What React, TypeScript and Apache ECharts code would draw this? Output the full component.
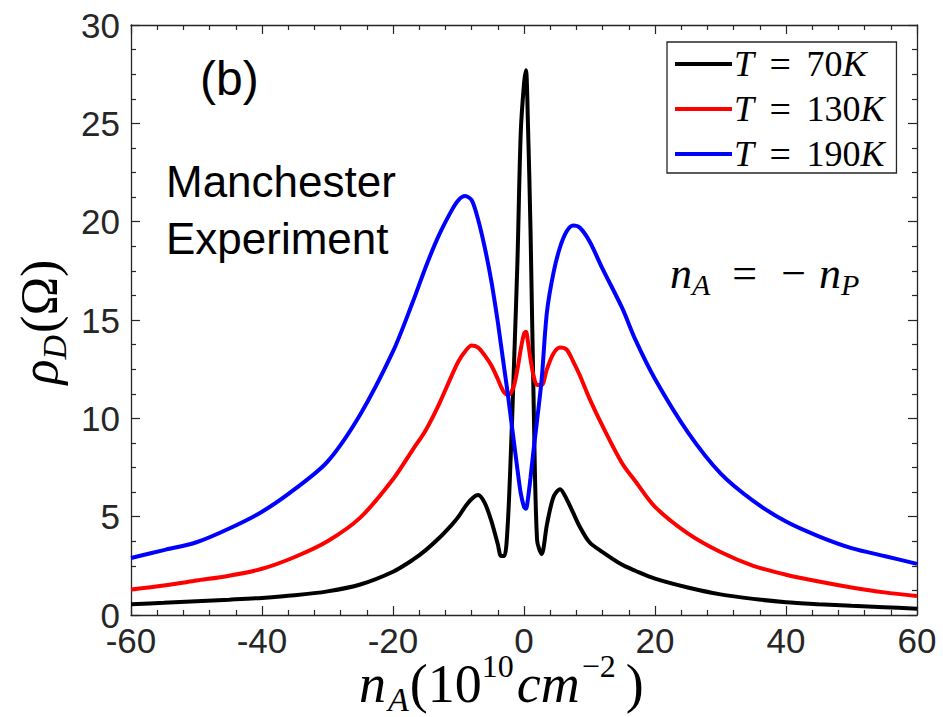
import React, { useEffect, useRef } from "react";
import * as echarts from "echarts";

const N_A = [-60, -55, -50, -45, -40, -35, -30, -25, -20, -17, -15, -13, -11, -10, -9, -8, -7, -6, -5, -4, -3.5, -3, -2.5, -2, -1.5, -1, -0.5, 0, 0.3, 0.6, 1, 1.5, 2, 2.7, 3.5, 4.5, 5.5, 6.5, 7.5, 8.5, 10, 12, 15, 17, 20, 25, 30, 35, 40, 45, 50, 55, 60];

const RHO_70K = [0.55, 0.62, 0.7, 0.78, 0.87, 1.0, 1.2, 1.55, 2.2, 2.8, 3.3, 3.9, 4.6, 5.0, 5.5, 5.9, 6.1, 5.7, 4.8, 3.6, 3.0, 3.0, 4.5, 8.3, 13, 18, 24.5, 27.0, 27.7, 25, 19.5, 10.3, 3.8, 3.1, 4.6, 6.0, 6.4, 5.9, 5.2, 4.5, 3.7, 3.2, 2.55, 2.25, 1.85, 1.4, 1.05, 0.82, 0.65, 0.55, 0.47, 0.4, 0.32];

const RHO_130K = [1.3, 1.5, 1.75, 2.0, 2.35, 2.95, 3.75, 4.95, 6.9, 8.4, 9.4, 10.7, 12.2, 12.9, 13.4, 13.7, 13.6, 13.2, 12.7, 12.0, 11.6, 11.3, 11.2, 11.3, 11.7, 12.5, 13.5, 14.3, 14.4, 13.9, 13.0, 12.1, 11.7, 11.7, 12.5, 13.3, 13.6, 13.5, 12.9, 12.2, 11.0, 9.6, 7.7, 6.8, 5.5, 4.15, 3.2, 2.5, 2.05, 1.7, 1.4, 1.15, 0.97];

const RHO_190K = [2.9, 3.3, 3.7, 4.4, 5.25, 6.4, 7.8, 10.2, 13.4, 15.9, 17.7, 19.3, 20.6, 21.1, 21.3, 21.1, 20.1, 18.7, 17.0, 14.9, 13.7, 12.5, 11.3, 10.0, 8.7, 7.4, 6.2, 5.5, 5.4, 5.9, 7.0, 8.5, 9.9, 12.0, 15.4, 17.4, 18.7, 19.5, 19.8, 19.7, 19.0, 17.6, 15.6, 14.0, 12.0, 9.3, 7.2, 5.8, 4.75, 4.0, 3.4, 3.0, 2.6];

const SERIES_NAMES = ["T = 70K", "T = 130K", "T = 190K"];
const SERIES_TEMPS = ["70", "130", "190"];
const SERIES_COLORS = ["#000000", "#ff0000", "#0000ff"];
const SERIES_VALUES = [RHO_70K, RHO_130K, RHO_190K];

const X_MIN = -60;
const X_MAX = 60;
const X_STEP = 20;
const Y_MIN = 0;
const Y_MAX = 30;
const Y_STEP = 5;

const AXIS_COLOR = "#262626";
const SANS = "'Liberation Sans', Arial, Helvetica, sans-serif";
const SERIF = "'Liberation Serif', 'Times New Roman', serif";

type Piece = { t: string; size: number; italic?: boolean; dy?: number; gap?: number };

let measureCtx: CanvasRenderingContext2D | null = null;
function measure(p: Piece): number {
  if (!measureCtx) measureCtx = document.createElement("canvas").getContext("2d");
  if (!measureCtx) return p.t.length * p.size * 0.5;
  measureCtx.font = `${p.italic ? "italic " : ""}${p.size}px 'Liberation Serif'`;
  return measureCtx.measureText(p.t).width;
}

// Builds a math-like label from pieces sharing one baseline (with sub/superscript offsets).
function mathLabel(pieces: Piece[], x: number, baseline: number, align: "left" | "center", rotation = 0) {
  const widths = pieces.map(measure);
  const total = pieces.reduce((acc, p, i) => acc + (p.gap || 0) + widths[i], 0);
  let cx = align === "center" ? -total / 2 : 0;
  const children: any[] = [];
  pieces.forEach((p, i) => {
    cx += p.gap || 0;
    children.push({
      type: "text",
      x: cx,
      y: (p.dy || 0) - 0.3375 * p.size,
      style: {
        text: p.t,
        fontFamily: SERIF,
        fontStyle: p.italic ? "italic" : "normal",
        fontSize: p.size,
        fill: "#000",
        align: "left",
        verticalAlign: "middle",
      },
    });
    cx += widths[i];
  });
  return { type: "group", x, y: baseline, rotation, children };
}

export default function App() {
  const ref = useRef<HTMLDivElement>(null);

  useEffect(() => {
    if (!ref.current) return;
    const chart = echarts.init(ref.current, undefined, { renderer: "svg" });

    const tickCommon = {
      axisLine: { show: true, onZero: false, lineStyle: { color: AXIS_COLOR, width: 1.3 } },
      axisTick: { show: true, inside: true, length: 9, lineStyle: { color: AXIS_COLOR, width: 1.2 } },
      splitLine: { show: false },
      minorSplitLine: { show: false },
    };
    const minorX = { show: true, splitNumber: 5, length: 5, lineStyle: { color: AXIS_COLOR, width: 1.2 } };
    const minorY = { show: true, splitNumber: 4, length: 5, lineStyle: { color: AXIS_COLOR, width: 1.2 } };
    const tickLabel = { fontSize: 35, lineHeight: 24, color: AXIS_COLOR, fontFamily: SANS };

    const xName = mathLabel(
      [
        { t: "n", size: 54, italic: true },
        { t: "A", size: 34, italic: true, dy: 9, gap: 2 },
        { t: "(", size: 54, gap: 1 },
        { t: "10", size: 54 },
        { t: "10", size: 32, dy: -25 },
        { t: "cm", size: 54, italic: true, gap: 3 },
        { t: "−2", size: 32, dy: -25, gap: 2 },
        { t: ")", size: 54, gap: 10 },
      ],
      359,
      702,
      "left"
    );

    const yName = mathLabel(
      [
        { t: "ρ", size: 52, italic: true },
        { t: "D", size: 34, italic: true, dy: 9 },
        { t: "(Ω)", size: 52, gap: 2 },
      ],
      57,
      322,
      "center",
      Math.PI / 2
    );

    const relation = mathLabel(
      [
        { t: "n", size: 44, italic: true },
        { t: "A", size: 30, italic: true, dy: 7 },
        { t: "=", size: 44, gap: 22 },
        { t: "−", size: 44, gap: 24 },
        { t: "n", size: 44, italic: true, gap: 13 },
        { t: "P", size: 30, italic: true, dy: 7 },
      ],
      670,
      288,
      "left"
    );

    const option: any = {
      animation: false,
      backgroundColor: "#ffffff",
      grid: { left: 131, right: 26, top: 25, bottom: 102, containLabel: false },
      xAxis: [
        {
          type: "value", min: X_MIN, max: X_MAX, interval: X_STEP, position: "bottom",
          ...tickCommon, minorTick: minorX,
          axisLabel: { ...tickLabel, margin: 13 },
        },
        {
          type: "value", min: X_MIN, max: X_MAX, interval: X_STEP, position: "top",
          ...tickCommon, minorTick: minorX,
          axisLabel: { show: false },
        },
      ],
      yAxis: [
        {
          type: "value", min: Y_MIN, max: Y_MAX, interval: Y_STEP, position: "left",
          ...tickCommon, minorTick: minorY,
          axisLabel: { ...tickLabel, margin: 11 },
        },
        {
          type: "value", min: Y_MIN, max: Y_MAX, interval: Y_STEP, position: "right",
          ...tickCommon, minorTick: minorY,
          axisLabel: { show: false },
        },
      ],
      legend: {
        orient: "vertical",
        left: 667,
        top: 42,
        itemWidth: 57,
        itemHeight: 4,
        itemGap: 7,
        icon: "rect",
        padding: [3, 12, 0, 8],
        borderColor: AXIS_COLOR,
        borderWidth: 1.3,
        borderRadius: 0,
        backgroundColor: "#ffffff",
        data: SERIES_NAMES,
        formatter: (name: string) => {
          const idx = SERIES_NAMES.indexOf(name);
          return `{i|T}{e| = }{n|${SERIES_TEMPS[idx]}}{i|K}`;
        },
        textStyle: {
          fontFamily: SERIF,
          fontSize: 36,
          lineHeight: 37,
          color: "#000",
          padding: [0, 0, 0, -3],
          rich: {
            i: { fontFamily: SERIF, fontStyle: "italic", fontSize: 36, color: "#000", lineHeight: 37 },
            e: { fontFamily: SERIF, fontSize: 38, color: "#000", lineHeight: 37, padding: [0, 6, 0, 6] },
            n: { fontFamily: SERIF, fontSize: 36, color: "#000", lineHeight: 37 },
          },
        },
      },
      series: SERIES_NAMES.map((name, s) => ({
        name,
        type: "line",
        xAxisIndex: 0,
        yAxisIndex: 0,
        data: N_A.map((x, i) => [x, SERIES_VALUES[s][i]]),
        showSymbol: false,
        symbol: "none",
        smooth: 0.3,
        lineStyle: { color: SERIES_COLORS[s], width: 4 },
        itemStyle: { color: SERIES_COLORS[s] },
        z: 2 + s,
      })),
      graphic: [
        {
          type: "text",
          x: 200,
          y: 54,
          style: { text: "(b)", fontFamily: SANS, fontSize: 48, fill: "#000" },
        },
        {
          type: "text",
          x: 166,
          y: 159,
          style: { text: "Manchester", fontFamily: SANS, fontSize: 44, fill: "#000" },
        },
        {
          type: "text",
          x: 166,
          y: 216,
          style: { text: "Experiment", fontFamily: SANS, fontSize: 44, fill: "#000" },
        },
        relation,
        xName,
        yName,
      ],
    };

    chart.setOption(option);
    return () => {
      chart.dispose();
    };
  }, []);

  return (
    <div
      ref={ref}
      style={{ position: "fixed", left: 0, top: 0, width: 943, height: 717, background: "#fff" }}
    />
  );
}
